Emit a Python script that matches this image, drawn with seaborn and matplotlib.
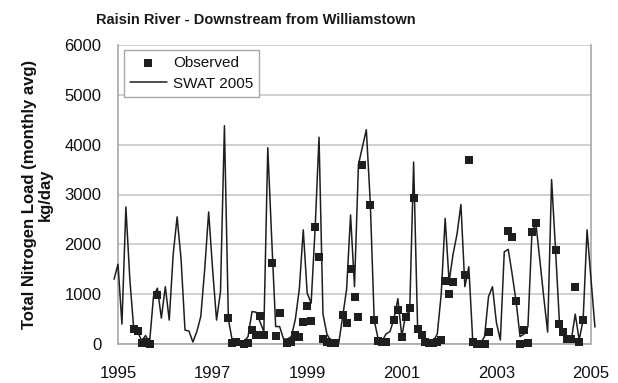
import numpy as np
import pandas as pd
import matplotlib
matplotlib.use("Agg")
import matplotlib.pyplot as plt
from matplotlib.ticker import MultipleLocator
import seaborn as sns

# SWAT 2005 simulated monthly average load (kg/day); month 0 = Jan 1995, first value is Dec 1994
swat_first_month = -1
swat_load = [
    1300,
    1600, 400, 2750, 1300, 300, 250, 60, 170, 20, 950, 1120, 520,        # 1995
    1150, 480, 1800, 2550, 1700, 280, 260, 40, 250, 550, 1500, 2650,     # 1996
    1500, 480, 1050, 4380, 500, 60, 30, 20, 50, 150, 650, 640,           # 1997
    450, 250, 3940, 2100, 350, 350, 100, 100, 150, 500, 1100, 2290,      # 1998
    1020, 820, 2300, 4150, 600, 200, 50, 10, 20, 550, 1100, 2590,        # 1999
    1150, 3600, 3950, 4300, 2850, 480, 100, 60, 200, 250, 500, 910,      # 2000
    150, 600, 650, 3650, 350, 180, 45, 20, 60, 200, 1000, 2520,          # 2001
    1250, 1800, 2200, 2800, 1150, 1550, 60, 10, 20, 150, 950, 1150,      # 2002
    430, 80, 1850, 1900, 1400, 850, 150, 200, 350, 2200, 2430, 1700,     # 2003
    950, 240, 3300, 1900, 420, 200, 70, 80, 600, 80, 480, 2290,          # 2004
    1300, 340,                                                           # 2005
]

# Observed monthly loads: month index (0 = Jan 1995) and value (kg/day)
obs_month = [4, 5, 6, 7, 8, 10,
             28, 29, 30, 32, 33, 34, 35, 36, 37, 39, 40, 41,
             43, 44, 45, 46, 47, 48, 49, 50, 51, 52, 53, 54, 55, 57, 58, 59,
             60, 61, 62, 64, 65, 66, 67, 68, 70, 71,
             72, 73, 74, 75, 76, 77, 78, 79, 80, 81, 82, 83,
             84, 85, 88, 89, 90, 91, 92, 93, 94,
             99, 100, 101, 102, 103, 104, 105, 106,
             111, 112, 113, 114, 115, 116, 117, 118]
obs_load = [300, 270, 20, 40, 10, 980,
            520, 30, 40, 10, 15, 280, 180, 560, 180, 1620, 160, 615,
            15, 45, 180, 150, 435, 760, 460, 2355, 1750, 95, 45, 15, 15, 580, 430, 1500,
            950, 550, 3590, 2790, 480, 65, 35, 45, 480, 680,
            150, 535, 715, 2920, 300, 180, 45, 15, 15, 45, 80, 1260,
            1000, 1250, 1385, 3700, 40, 10, 10, 10, 240,
            2260, 2150, 860, 10, 280, 20, 2240, 2430,
            1890, 400, 240, 110, 110, 1150, 40, 480]

year_ticks = [1995, 1997, 1999, 2001, 2003, 2005]
load_ticks = [0, 1000, 2000, 3000, 4000, 5000, 6000]

swat = pd.DataFrame({
    "year": 1995 + (np.arange(len(swat_load)) + swat_first_month) / 12.0,
    "load": swat_load,
})
obs = pd.DataFrame({
    "year": 1995 + np.array(obs_month) / 12.0,
    "load": obs_load,
})

sns.set_theme(style="white")
plt.rcParams["font.family"] = ["Liberation Sans", "DejaVu Sans"]

fig = plt.figure(figsize=(6.18, 3.83), dpi=100)
ax = fig.add_axes([118 / 618, 1 - 344 / 383, (591 - 118) / 618, (344 - 45) / 383])

grid_color = "#c8c8c8"
ax.set_axisbelow(True)
ax.yaxis.grid(True, color=grid_color, linewidth=1.2)

sns.lineplot(data=swat, x="year", y="load", ax=ax, color="#1e1e1e",
             linewidth=1.1, label="SWAT 2005", clip_on=False, zorder=3)
sns.scatterplot(data=obs, x="year", y="load", ax=ax, marker="s", s=28,
                color="#1e1e1e", edgecolor="#1e1e1e", linewidth=0,
                label="Observed", clip_on=False, zorder=4)

ax.set_xlim(1995, 2005)
ax.set_ylim(0, 6000)
ax.set_xticks(year_ticks)
ax.set_xticklabels([str(y) for y in year_ticks])
ax.xaxis.set_minor_locator(MultipleLocator(1))
ax.set_yticks(load_ticks)
ax.set_yticklabels([str(v) for v in load_ticks])

for side in ["left", "bottom", "right", "top"]:
    ax.spines[side].set_color("#a8a8a8")
    ax.spines[side].set_linewidth(1.2)
ax.spines["top"].set_visible(False)

ax.tick_params(axis="both", which="major", labelsize=12, colors="#a0a0a0",
               labelcolor="#111111", length=4, width=1, direction="out")
ax.tick_params(axis="x", which="major", pad=12)
ax.tick_params(axis="x", which="minor", length=3, width=1, colors="#a0a0a0",
               direction="out")
ax.tick_params(axis="y", which="major", pad=8)

ax.set_xlabel("")
ax.set_ylabel("Total Nitrogen Load (monthly avg)\nkg/day", fontsize=12,
              fontweight="bold", color="#111111", labelpad=8, linespacing=1.05)

handles, labels = ax.get_legend_handles_labels()
order = [labels.index("Observed"), labels.index("SWAT 2005")]
leg = ax.legend([handles[i] for i in order], [labels[i] for i in order],
                loc="upper left", bbox_to_anchor=(0.006, 0.995),
                fontsize=11, frameon=True, fancybox=False,
                edgecolor="#a8a8a8", framealpha=1, borderpad=0.4,
                handlelength=2.4, handletextpad=0.4, labelspacing=0.45,
                borderaxespad=0.2)
leg.get_frame().set_linewidth(1.0)
for t in leg.get_texts():
    t.set_color("#111111")

fig.text(256 / 618, 1 - 20 / 383, "Raisin River - Downstream from Williamstown",
         ha="center", va="center", fontsize=10.5, fontweight="bold",
         color="#1a1a1a")

fig.savefig("out.png", dpi=100, facecolor="white")
